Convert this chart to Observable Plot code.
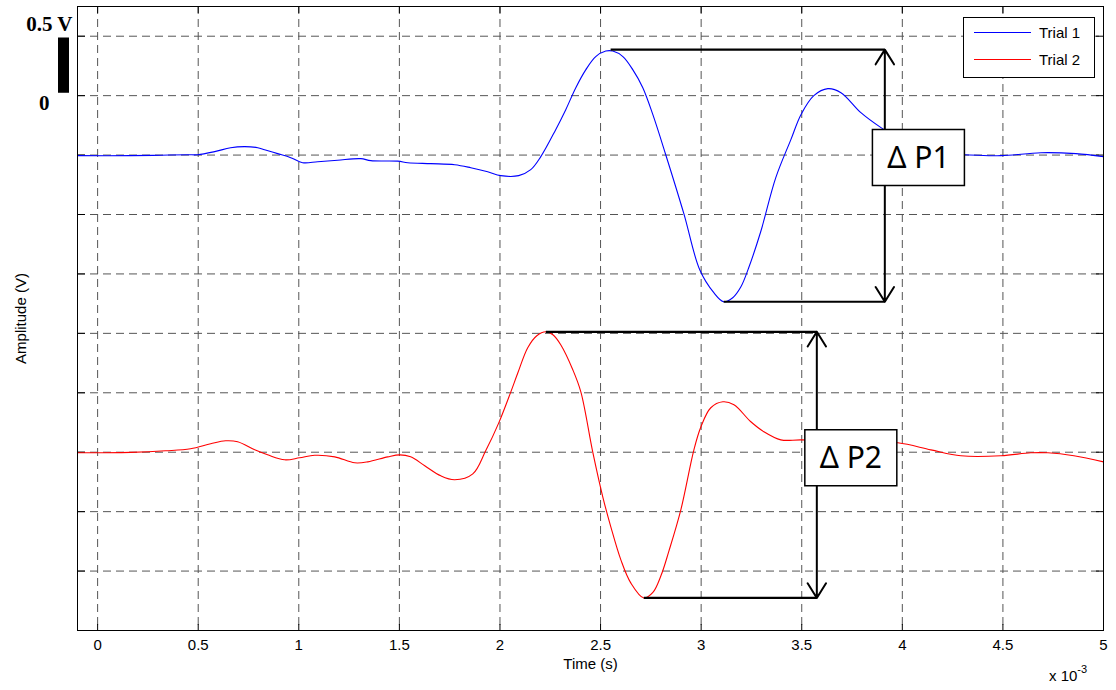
<!DOCTYPE html>
<html>
<head>
<meta charset="utf-8">
<script src="https://cdn.jsdelivr.net/npm/d3@7"></script>
<script src="https://cdn.jsdelivr.net/npm/@observablehq/plot@0.6"></script>
<style>
  body { margin: 0; background: #fff; }
  #wrap { position: relative; width: 1116px; height: 690px; font-family: "Liberation Sans", Arial, sans-serif; }
  #legend { position: absolute; left: 963px; top: 17px; width: 130px; height: 59px; background: #fff; border: 1px solid #000; font-size: 15px; }
  #legend .row { position: absolute; left: 10px; display: flex; align-items: center; }
  #legend .sw { width: 57px; height: 0; border-top: 1px solid; margin-right: 8px; }
  #exp { position: absolute; left: 1049px; top: 665px; font-size: 15px; }
  #exp sup { font-size: 11px; position: relative; top: -2px; }
</style>
</head>
<body>
<div id="wrap">
  <div id="chart"></div>
  <div id="legend"></div>
  <div id="exp">x 10<sup>-3</sup></div>
</div>
<script>
// ---- data (time in ms, amplitude in V) ----
const seriesNames = ["Trial 1", "Trial 2"];
const seriesColors = ["#0000ff", "#ff0000"];

const trial1Time = [-0.1, 0.164, 0.313, 0.448, 0.497, 0.582, 0.661, 0.731, 0.796, 0.830, 0.895, 0.960, 1.019, 1.094, 1.193, 1.308, 1.358, 1.492, 1.542, 1.656, 1.775, 1.855, 1.939, 2.004, 2.093, 2.153, 2.203, 2.277, 2.327, 2.377, 2.427, 2.476, 2.526, 2.561, 2.611, 2.660, 2.710, 2.760, 2.824, 2.914, 2.993, 3.063, 3.112, 3.157, 3.197, 3.236, 3.296, 3.371, 3.446, 3.496, 3.560, 3.630, 3.695, 3.794, 3.894, 4.018, 4.167, 4.306, 4.490, 4.689, 4.863, 5.0];
const trial1Volts = [-0.505, -0.505, -0.501, -0.497, -0.497, -0.471, -0.438, -0.429, -0.438, -0.455, -0.488, -0.522, -0.564, -0.556, -0.543, -0.530, -0.547, -0.551, -0.564, -0.572, -0.581, -0.606, -0.640, -0.673, -0.673, -0.623, -0.513, -0.286, -0.118, 0.067, 0.219, 0.328, 0.375, 0.375, 0.328, 0.219, 0.067, -0.160, -0.497, -0.993, -1.465, -1.658, -1.734, -1.700, -1.610, -1.450, -1.145, -0.690, -0.370, -0.160, 0.0, 0.059, 0.025, -0.143, -0.269, -0.396, -0.497, -0.497, -0.505, -0.480, -0.488, -0.513];

const trial2Time = [-0.1, 0.164, 0.338, 0.462, 0.562, 0.636, 0.696, 0.781, 0.845, 0.930, 1.004, 1.079, 1.179, 1.278, 1.343, 1.442, 1.502, 1.556, 1.626, 1.706, 1.775, 1.865, 1.929, 1.994, 2.054, 2.089, 2.138, 2.183, 2.228, 2.263, 2.302, 2.362, 2.402, 2.461, 2.511, 2.551, 2.601, 2.650, 2.715, 2.760, 2.800, 2.840, 2.899, 2.964, 2.999, 3.048, 3.108, 3.163, 3.247, 3.312, 3.396, 3.496, 3.744, 3.978, 4.142, 4.291, 4.490, 4.639, 4.724, 4.853, 5.0];
const trial2Volts = [-3.005, -3.001, -2.988, -2.971, -2.929, -2.904, -2.912, -2.980, -3.022, -3.064, -3.047, -3.026, -3.039, -3.089, -3.081, -3.039, -3.022, -3.039, -3.114, -3.199, -3.232, -3.182, -2.988, -2.753, -2.492, -2.332, -2.121, -2.020, -1.987, -2.012, -2.096, -2.306, -2.492, -2.997, -3.375, -3.628, -3.906, -4.099, -4.226, -4.180, -4.040, -3.830, -3.485, -2.980, -2.786, -2.626, -2.576, -2.601, -2.744, -2.828, -2.896, -2.896, -2.904, -2.921, -2.980, -3.030, -3.030, -3.005, -3.005, -3.030, -3.081];

const xTicks = [0, 0.5, 1, 1.5, 2, 2.5, 3, 3.5, 4, 4.5, 5];
const yTicks = [-4.5, -4, -3.5, -3, -2.5, -2, -1.5, -1, -0.5, 0, 0.5];

// peak-to-peak annotations
const deltaLabels = ["Δ P1", "Δ P2"];
const peakTime = [2.55, 2.228], peakVolts = [0.387, -1.987];
const troughTime = [3.112, 2.715], troughVolts = [-1.734, -4.226];
const arrowTime = [3.913, 3.575];
const boxTime = [4.08, 3.744], boxVolts = [-0.52, -3.047];

// scale bar (0 to 0.5 V)
const scaleBarVolts = [0, 0.5];
const scaleBarLabels = ["0", "0.5 V"];

// ---- build tables ----
const rows = [];
trial1Time.forEach((t, i) => rows.push({series: seriesNames[0], t, v: trial1Volts[i]}));
trial2Time.forEach((t, i) => rows.push({series: seriesNames[1], t, v: trial2Volts[i]}));

const ann = deltaLabels.map((label, i) => ({
  label, pt: peakTime[i], pv: peakVolts[i], tt: troughTime[i], tv: troughVolts[i],
  at: arrowTime[i], mid: (peakVolts[i] + troughVolts[i]) / 2, bt: boxTime[i], bv: boxVolts[i]
}));

const boxSymbol = { draw(ctx) { ctx.moveTo(-46, -28); ctx.lineTo(46, -28); ctx.lineTo(46, 28); ctx.lineTo(-46, 28); ctx.closePath(); } };

const grid = {stroke: "#555", strokeOpacity: 1, strokeDasharray: "8,5", strokeWidth: 1};
const xMin = -0.1;

const chart = Plot.plot({
  width: 1116, height: 690,
  marginLeft: 77, marginRight: 13, marginTop: 6, marginBottom: 60,
  style: {fontFamily: "Liberation Sans, Arial, sans-serif", fontSize: "15px", color: "#000", background: "#fff"},
  x: {domain: [xMin, 5.0]},
  y: {domain: [-4.5, 0.75]},
  color: {domain: seriesNames, range: seriesColors},
  marks: [
    Plot.gridX(xTicks, grid),
    Plot.gridY(yTicks, grid),
    Plot.axisX(xTicks, {tickSize: 0, tickPadding: 9, tickFormat: d => String(d), label: "Time (s)", labelAnchor: "center", labelArrow: "none", labelOffset: 38, fontSize: 15}),
    Plot.axisX(xTicks, {anchor: "bottom", tickSize: -6, tickFormat: () => "", label: null}),
    Plot.axisX(xTicks, {anchor: "top", tickSize: -6, tickFormat: () => "", label: null}),
    Plot.axisY(yTicks, {anchor: "left", tickSize: -8, tickFormat: () => "", label: "Amplitude (V)", labelAnchor: "center", labelArrow: "none", labelOffset: 62, fontSize: 15}),
    Plot.axisY(yTicks, {anchor: "right", tickSize: -8, tickFormat: () => "", label: null}),
    Plot.line(rows, {x: "t", y: "v", z: "series", stroke: "series", strokeWidth: 1.1, curve: "catmull-rom"}),
    // horizontal peak/trough lines
    Plot.link(ann, {x1: "pt", x2: "at", y1: "pv", y2: "pv", stroke: "#000", strokeWidth: 2.2}),
    Plot.link(ann, {x1: "tt", x2: "at", y1: "tv", y2: "tv", stroke: "#000", strokeWidth: 2.2}),
    // double arrows
    Plot.arrow(ann, {x1: "at", x2: "at", y1: "mid", y2: "pv", stroke: "#000", strokeWidth: 2, headLength: 13, headAngle: 64}),
    Plot.arrow(ann, {x1: "at", x2: "at", y1: "mid", y2: "tv", stroke: "#000", strokeWidth: 2, headLength: 13, headAngle: 64}),
    // label boxes
    Plot.dot(ann, {x: "bt", y: "bv", symbol: boxSymbol, r: 5, fill: "#fff", stroke: "#000", strokeWidth: 1.5}),
    Plot.text(ann, {x: "bt", y: "bv", text: "label", fontSize: 30, fontFamily: "Noto Sans", fill: "#000", dy: 1}),
    // scale bar
    Plot.ruleX([xMin], {x: d => d, y1: scaleBarVolts[0] + 0.02, y2: scaleBarVolts[1] - 0.015, dx: -14, stroke: "#000", strokeWidth: 11, strokeLinecap: "butt"}),
    Plot.text([scaleBarVolts[1]], {x: xMin, y: d => d, text: () => scaleBarLabels[1], textAnchor: "end", dx: -5, dy: -12,
      fontFamily: "Liberation Serif", fontWeight: "bold", fontSize: 21}),
    Plot.text([scaleBarVolts[0]], {x: xMin, y: d => d, text: () => scaleBarLabels[0], textAnchor: "end", dx: -28, dy: 8,
      fontFamily: "Liberation Serif", fontWeight: "bold", fontSize: 21}),
    Plot.frame({stroke: "#000", strokeWidth: 1})
  ]
});
document.getElementById("chart").appendChild(chart);

// legend
const legend = document.getElementById("legend");
seriesNames.forEach((name, i) => {
  const row = document.createElement("div");
  row.className = "row";
  row.style.top = (6 + i * 27) + "px";
  row.innerHTML = `<span class="sw" style="border-color:${seriesColors[i]}"></span><span>${name}</span>`;
  legend.appendChild(row);
});
</script>
</body>
</html>
